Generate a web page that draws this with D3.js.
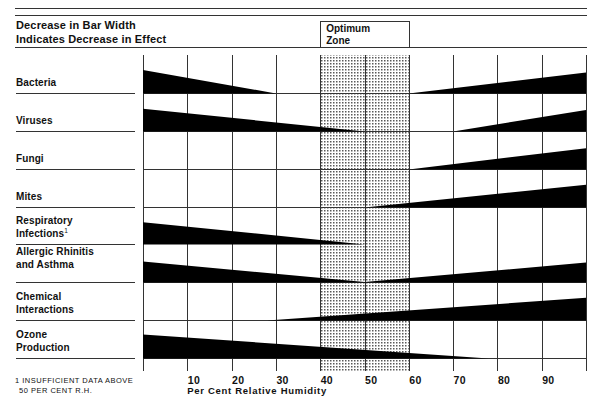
<!DOCTYPE html>
<meta charset="utf-8">
<head>
    <title>Optimum relative humidity</title>
    <style>
        html, body { margin: 0; padding: 0; background: #fff; }
        svg { display: block; }
        text { font-family: "Liberation Sans", Helvetica, Arial, sans-serif; fill: #111; }
        .bold { font-weight: bold; }
        .rule { stroke: #333; stroke-width: 1; shape-rendering: crispEdges; }
        .grid line { stroke: #333; stroke-width: 1; shape-rendering: crispEdges; }
        .wedge { fill: #000; }
    </style>
</head>
<body>
    <svg id="chart" width="599" height="402"></svg>
    <script src="https://cdn.jsdelivr.net/npm/d3@7"></script>
    <script>
        // row labels (each entry is the label's lines)
        const categories = [
            ["Bacteria"],
            ["Viruses"],
            ["Fungi"],
            ["Mites"],
            ["Respiratory", "Infections"],
            ["Allergic Rhinitis", "and Asthma"],
            ["Chemical", "Interactions"],
            ["Ozone", "Production"]
        ];

        // wedges per row: [from %RH, to %RH, width at start, width at end] (0-10 effect)
        const bacteria    = [[0, 30, 9.8, 0], [60, 100, 0, 8.7]];
        const viruses     = [[0, 50, 9.5, 0], [70, 100, 0, 9.0]];
        const fungi       = [[60, 100, 0, 8.9]];
        const mites       = [[50, 100, 0, 9.5]];
        const respiratory = [[0, 50, 9.3, 0]];
        const allergic    = [[0, 50, 8.8, 0.2], [50, 100, 0.2, 8.3]];
        const chemical    = [[28, 100, 0, 9.5]];
        const ozone       = [[0, 78, 10, 0]];
        const series = [bacteria, viruses, fungi, mites, respiratory, allergic, chemical, ozone];

        const gridTicks = [0, 10, 20, 30, 40, 50, 60, 70, 80, 90, 100];
        const tickLabels = [10, 20, 30, 40, 50, 60, 70, 80, 90];
        const optimum = [40, 60];

        const svg = d3.select('#chart');
        const yTop = 55, yBottom = 371;

        const x = d3.scaleLinear().domain([0, 100]).range([143, 586]);
        const y = d3.scaleBand().domain(d3.range(categories.length)).range([yTop, 358]);
        const w = d3.scaleLinear().domain([0, 10]).range([0, 24]);

        // stipple for the optimum zone
        const pat = svg.append('defs').append('pattern')
            .attr('id', 'stipple')
            .attr('patternUnits', 'userSpaceOnUse')
            .attr('width', 3).attr('height', 3);
        pat.append('rect').attr('width', 3).attr('height', 3).attr('fill', '#fff');
        pat.append('rect').attr('width', 1.5).attr('height', 1.5).attr('fill', '#5a5a5a');

        // header rules
        [8.5, 15.5, 47.5].forEach(yy => {
            svg.append('line').attr('class', 'rule')
                .attr('x1', 15).attr('x2', 587).attr('y1', yy).attr('y2', yy);
        });

        const head = svg.append('text').attr('class', 'bold')
            .attr('font-size', 11).attr('letter-spacing', 0.15);
        head.append('tspan').attr('x', 16).attr('y', 29).text('Decrease in Bar Width');
        head.append('tspan').attr('x', 16).attr('y', 43).text('Indicates Decrease in Effect');

        // optimum zone box in header
        svg.append('path').attr('class', 'rule').attr('fill', 'none')
            .attr('d', `M${x(optimum[0]) + 0.5},47.5V21.5H${x(optimum[1]) + 0.5}V47.5`);
        const oz = svg.append('text').attr('class', 'bold').attr('font-size', 10);
        oz.append('tspan').attr('x', x(optimum[0]) + 6).attr('y', 32).text('Optimum');
        oz.append('tspan').attr('x', x(optimum[0]) + 6).attr('y', 44).text('Zone');

        // optimum zone shading
        svg.append('rect')
            .attr('x', x(optimum[0])).attr('y', yTop)
            .attr('width', x(optimum[1]) - x(optimum[0])).attr('height', yBottom - yTop)
            .attr('fill', 'url(#stipple)');

        // vertical grid
        svg.append('g').attr('class', 'grid')
            .selectAll('line').data(gridTicks).join('line')
            .attr('x1', d => x(d) + 0.5).attr('x2', d => x(d) + 0.5)
            .attr('y1', yTop).attr('y2', yBottom);

        // row rules (label underline + chart line); respiratory row has no chart line
        const rows = svg.append('g');
        categories.forEach((lab, i) => {
            const base = Math.round(y(i) + y.bandwidth()) + 0.5;
            rows.append('line').attr('class', 'rule')
                .attr('x1', 16).attr('x2', 135).attr('y1', base).attr('y2', base);
            if (i !== 4) {
                rows.append('line').attr('class', 'rule')
                    .attr('x1', x(0)).attr('x2', x(100)).attr('y1', base).attr('y2', base);
            }

            // label text
            const t = rows.append('text').attr('class', 'bold')
                .attr('font-size', 10).attr('letter-spacing', 0.1);
            const lift = i === 5 ? 7 : 0;
            if (lab.length === 1) {
                t.append('tspan').attr('x', 16).attr('y', base - 7.5).text(lab[0]);
            } else {
                t.append('tspan').attr('x', 16).attr('y', base - 20.5 - lift).text(lab[0]);
                t.append('tspan').attr('x', 16).attr('y', base - 8 - lift).text(lab[1]);
                if (i === 4) {
                    t.append('tspan').attr('font-size', 6.5).attr('dy', -3.5)
                        .attr('font-weight', 'normal').text('1');
                }
            }
        });

        // wedges
        const area = d3.area()
            .x(d => x(d[0]))
            .y0(d => d[2])
            .y1(d => d[2] - w(d[1]));

        series.forEach((segs, i) => {
            const base = Math.round(y(i) + y.bandwidth()) + 0.5;
            svg.append('g').selectAll('path').data(segs).join('path')
                .attr('class', 'wedge')
                .attr('d', s => area([[s[0], s[2], base], [s[1], s[3], base]]));
        });

        // axis labels
        const axis = d3.axisBottom(x).tickValues(tickLabels).tickSize(0).tickPadding(0);
        const ag = svg.append('g').attr('transform', `translate(0,${yBottom})`).call(axis);
        ag.select('.domain').remove();
        ag.selectAll('text')
            .attr('class', 'bold')
            .attr('text-anchor', 'start')
            .attr('dx', 0).attr('dy', 0).attr('y', 13)
            .attr('font-family', null)
            .attr('font-size', 10.5).attr('letter-spacing', 0.3)
            .style('fill', '#111');

        svg.append('text').attr('class', 'bold')
            .attr('x', x(10)).attr('y', 394)
            .attr('font-size', 9.5).attr('letter-spacing', 0.7)
            .text('Per Cent Relative Humidity');

        // footnote
        const fn = svg.append('text').attr('font-size', 7.5).attr('letter-spacing', 0.5);
        fn.append('tspan').attr('x', 15).attr('y', 383).text('1 INSUFFICIENT DATA ABOVE');
        fn.append('tspan').attr('x', 19).attr('y', 393).text('50 PER CENT R.H.');
    </script>
</body>
</html>
